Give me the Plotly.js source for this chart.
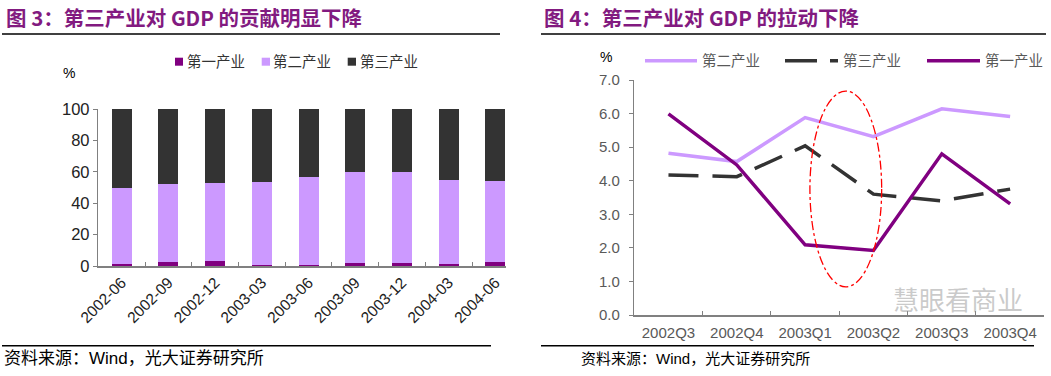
<!DOCTYPE html>
<html><head><meta charset="utf-8">
<script src="https://cdn.plot.ly/plotly-3.0.1.min.js"></script>
<style>html,body{margin:0;padding:0;background:#fff}#chart{width:1051px;height:376px}</style>
</head><body><div id="chart"></div>
<script>
// ---- Data: left panel (share of GDP growth, %) ----
const barCategories = ['2002-06','2002-09','2002-12','2003-03','2003-06','2003-09','2003-12','2004-03','2004-06'];
const primaryShare   = [1.5, 2.8, 3.4, 0.8, 0.8, 2.1, 2.1, 1.5, 2.8];
const secondaryShare = [48.5, 49.6, 49.7, 52.9, 55.9, 58.0, 58.0, 53.5, 51.6];
const tertiaryShare  = [50.0, 47.6, 46.9, 46.3, 43.3, 39.9, 39.9, 45.0, 45.6];

// ---- Data: right panel (pull on GDP, %) ----
const quarters       = ['2002Q3','2002Q4','2003Q1','2003Q2','2003Q3','2003Q4'];
const secondaryPull  = [4.82, 4.57, 5.88, 5.31, 6.14, 5.91];
const tertiaryPull   = [4.17, 4.12, 5.04, 3.60, 3.40, 3.75];
const primaryPull    = [5.99, 4.47, 2.09, 1.92, 4.80, 3.31];

const seriesNames = ['第一产业','第二产业','第三产业'];
const C1 = '#800080', C2 = '#CC99FF', C3 = '#333333';
const FONT = 'Liberation Sans, Arial, Noto Sans CJK SC, sans-serif';

const traces = [
  {type:'bar', x:barCategories, y:primaryShare, name:seriesNames[0], marker:{color:C1}, width:0.43, xaxis:'x', yaxis:'y'},
  {type:'bar', x:barCategories, y:secondaryShare, name:seriesNames[1], marker:{color:C2}, width:0.43, xaxis:'x', yaxis:'y'},
  {type:'bar', x:barCategories, y:tertiaryShare, name:seriesNames[2], marker:{color:C3}, width:0.43, xaxis:'x', yaxis:'y'},
  {type:'scatter', mode:'lines', x:quarters, y:secondaryPull, name:seriesNames[1], line:{color:C2, width:3.5}, xaxis:'x2', yaxis:'y2'},
  {type:'scatter', mode:'lines', x:quarters, y:tertiaryPull, name:seriesNames[2], line:{color:C3, width:3.5, dash:'30px,14px'}, xaxis:'x2', yaxis:'y2'},
  {type:'scatter', mode:'lines', x:quarters, y:primaryPull, name:seriesNames[0], line:{color:C1, width:3.5}, xaxis:'x2', yaxis:'y2'}
];

const H = 376, W = 1051;
const py = v => (H - v) / H;
const px = v => v / W;
const titleColor = '#821a80';

// legend helpers (paper-pixel placement)
const legendText = (x, y, t, color) => ({xref:'paper', yref:'paper', x:px(x), y:py(y), xanchor:'left', yanchor:'middle',
  showarrow:false, text:t, font:{size:14.5, color:color}});
const legendSquare = (x0, x1, y0, y1, color) => ({type:'rect', xref:'paper', yref:'paper', x0:px(x0), x1:px(x1), y0:py(y1), y1:py(y0),
  fillcolor:color, line:{width:0}});
const legendLine = (x0, x1, y, color, dash) => ({type:'line', xref:'paper', yref:'paper', x0:px(x0), x1:px(x1), y0:py(y), y1:py(y),
  line:{color:color, width:3.5, dash:dash || 'solid'}});

const layout = {
  width: W, height: H,
  margin: {l:0, r:0, t:0, b:0},
  paper_bgcolor: '#fff', plot_bgcolor: '#fff',
  font: {family: FONT, color: '#333', size: 14},
  barmode: 'stack',
  showlegend: false,
  xaxis: {domain:[px(98.3), px(505.7)], anchor:'y', type:'category', range:[-0.5, 8.22],
    showline:true, linecolor:'#808080', linewidth:1.5, ticks:'inside', tickson:'boundaries', ticklen:4, tickcolor:'#808080',
    tickangle:-45, tickfont:{size:15.5, color:'#222'}, showgrid:false},
  yaxis: {domain:[py(266), py(109)], anchor:'x', range:[0,100], dtick:20,
    showline:true, linecolor:'#808080', linewidth:1.5, ticks:'outside', ticklen:4, tickcolor:'#808080',
    showgrid:false, zeroline:false, tickfont:{size:16.5, color:'#222'}},
  xaxis2: {domain:[px(634.3), px(1044.3)], anchor:'y2', type:'category', range:[-0.5, 5.5],
    showline:true, linecolor:'#808080', linewidth:1.5, ticks:'inside', tickson:'boundaries', ticklen:4, tickcolor:'#808080',
    tickfont:{size:15, color:'#595959'}, showgrid:false, ticklabelstandoff:3},
  yaxis2: {domain:[py(315), py(80)], anchor:'x2', range:[0,7], dtick:1, tickformat:'.1f',
    showline:true, linecolor:'#808080', linewidth:1.5, ticks:'outside', ticklen:4, tickcolor:'#808080',
    showgrid:false, zeroline:false, tickfont:{size:15, color:'#595959'}, ticklabelstandoff:6},
  shapes: [
    {type:'line', xref:'paper', yref:'paper', x0:px(2), x1:px(500), y0:py(34), y1:py(34), line:{color:'#000', width:1.5}},
    {type:'line', xref:'paper', yref:'paper', x0:px(541), x1:px(1046), y0:py(34), y1:py(34), line:{color:'#000', width:1.5}},
    {type:'line', xref:'paper', yref:'paper', x0:px(2), x1:px(491), y0:py(345.7), y1:py(345.7), line:{color:'#000', width:1.5}},
    {type:'line', xref:'paper', yref:'paper', x0:px(541), x1:px(1034), y0:py(345.7), y1:py(345.7), line:{color:'#000', width:1.5}},
    {type:'circle', xref:'x2', yref:'y2', x0:2.07, x1:3.12, y0:0.84, y1:6.67, line:{color:'#ff0000', width:1.3, dash:'dashdot'}},
    // left legend keys
    legendSquare(175, 183, 57.7, 65.7, C1),
    legendSquare(261.7, 270, 57.7, 65.7, C2),
    legendSquare(347.7, 356, 57.7, 65.7, C3),
    // right legend keys
    legendLine(645, 697, 60.7, C2),
    legendLine(785, 838, 60.7, C3, '32px,13px'),
    legendLine(927, 980, 60.7, C1)
  ],
  annotations: [
    {xref:'paper', yref:'paper', x:px(4), y:py(17), xanchor:'left', yanchor:'middle', showarrow:false,
      text:'<b>图 3：第三产业对 GDP 的贡献明显下降</b>', font:{size:20.5, color:titleColor, family:'Noto Sans CJK SC, Liberation Sans, sans-serif'}},
    {xref:'paper', yref:'paper', x:px(542), y:py(17), xanchor:'left', yanchor:'middle', showarrow:false,
      text:'<b>图 4：第三产业对 GDP 的拉动下降</b>', font:{size:20.5, color:titleColor, family:'Noto Sans CJK SC, Liberation Sans, sans-serif'}},
    {xref:'paper', yref:'paper', x:px(2), y:py(358), xanchor:'left', yanchor:'middle', showarrow:false,
      text:'资料来源：Wind，光大证券研究所', font:{size:17, color:'#000'}},
    {xref:'paper', yref:'paper', x:px(579), y:py(358), xanchor:'left', yanchor:'middle', showarrow:false,
      text:'资料来源：Wind，光大证券研究所', font:{size:15, color:'#000'}},
    {xref:'paper', yref:'paper', x:px(69), y:py(73), xanchor:'center', yanchor:'middle', showarrow:false,
      text:'%', font:{size:14, color:'#000'}},
    {xref:'paper', yref:'paper', x:px(606), y:py(57), xanchor:'center', yanchor:'middle', showarrow:false,
      text:'%', font:{size:14, color:'#000'}},
    legendText(185, 61.7, seriesNames[0], '#333'),
    legendText(271, 61.7, seriesNames[1], '#333'),
    legendText(357.5, 61.7, seriesNames[2], '#333'),
    legendText(700, 60.7, seriesNames[1], '#595959'),
    legendText(841, 60.7, seriesNames[2], '#595959'),
    legendText(983, 60.7, seriesNames[0], '#595959'),
    {xref:'paper', yref:'paper', x:px(958), y:py(298), xanchor:'center', yanchor:'middle', showarrow:false,
      text:'慧眼看商业', font:{size:26, color:'rgba(150,150,150,0.5)', family:'Noto Sans CJK SC, sans-serif'}}
  ]
};

Plotly.newPlot('chart', traces, layout, {displayModeBar:false, staticPlot:true});
</script>
</body></html>
